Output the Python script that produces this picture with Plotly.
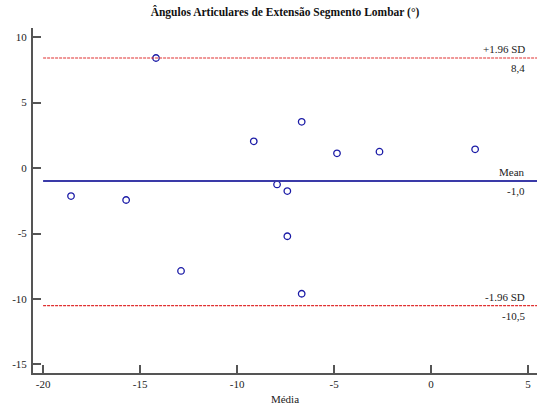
import plotly.graph_objects as go

# Bland-Altman data: mean of the two measurements vs. their difference
media = [-18.56, -15.72, -14.18, -12.89, -9.14, -6.67, -7.94, -7.41, -7.41, -6.67, -4.85, -2.66, 2.27]
diferenca = [-2.14, -2.44, 8.4, -7.86, 2.04, 3.53, -1.25, -1.76, -5.21, -9.6, 1.12, 1.25, 1.43]

mean_diff = -1.0
upper_loa = 8.4
lower_loa = -10.5

x_range = [-20.52, 5.46]
y_range = [-15.65, 10.69]
line_start = -20

serif = "Liberation Serif, Times New Roman, serif"
txt = "#222"

fig = go.Figure()

fig.add_trace(go.Scatter(
    x=media, y=diferenca, mode="markers",
    marker=dict(symbol="circle-open", size=6.5, color="#1a1aa6", line=dict(width=1.3, color="#1a1aa6")),
    showlegend=False, cliponaxis=False,
))

# mean and limits of agreement
fig.add_shape(type="line", xref="x", yref="y", x0=line_start, x1=x_range[1], y0=mean_diff, y1=mean_diff,
              line=dict(color="#3a3aa8", width=2))
for v in (upper_loa, lower_loa):
    fig.add_shape(type="line", xref="x", yref="y", x0=line_start, x1=x_range[1], y0=v, y1=v,
                  line=dict(color="#e03030", width=1.2, dash="3px,1px"))

def fmt(v):
    return f"{v:.1f}".replace(".", ",")

labels = [(upper_loa, "+1.96 SD"), (mean_diff, "Mean"), (lower_loa, "-1.96 SD")]
for v, name in labels:
    fig.add_annotation(x=1, xref="paper", y=v, yref="y", text=name, showarrow=False,
                       xanchor="right", yanchor="bottom", xshift=-10, yshift=1,
                       font=dict(family=serif, size=11, color=txt))
    fig.add_annotation(x=1, xref="paper", y=v, yref="y", text=fmt(v), showarrow=False,
                       xanchor="right", yanchor="top", xshift=-10, yshift=-2,
                       font=dict(family=serif, size=11, color=txt))

axis_common = dict(showgrid=False, zeroline=False, showline=True, linecolor="#555", linewidth=2,
                   ticks="inside", ticklen=8, tickwidth=2, tickcolor="#555",
                   tickfont=dict(family=serif, size=11, color=txt))

fig.update_xaxes(range=x_range, tickvals=[-20, -15, -10, -5, 0, 5], ticktext=["-20", "-15", "-10", "-5", "0", "5"],
                 title=dict(text="Média", font=dict(family=serif, size=11, color=txt), standoff=6),
                 **axis_common)
fig.update_yaxes(range=y_range, tickvals=[-15, -10, -5, 0, 5, 10], ticktext=["-15", "-10", "-5", "0", "5", "10"],
                 ticklabelstandoff=2, **axis_common)

fig.update_layout(
    width=537, height=414,
    margin=dict(l=33, r=0, t=28, b=41),
    plot_bgcolor="white", paper_bgcolor="white",
    title=dict(text="<b>Ângulos Articulares de Extensão Segmento Lombar (°)</b>",
               x=0.5, xref="paper", xanchor="center", y=0.971, yanchor="middle",
               font=dict(family=serif, size=11.5, color="#111")),
)

fig.write_html("out.html")
